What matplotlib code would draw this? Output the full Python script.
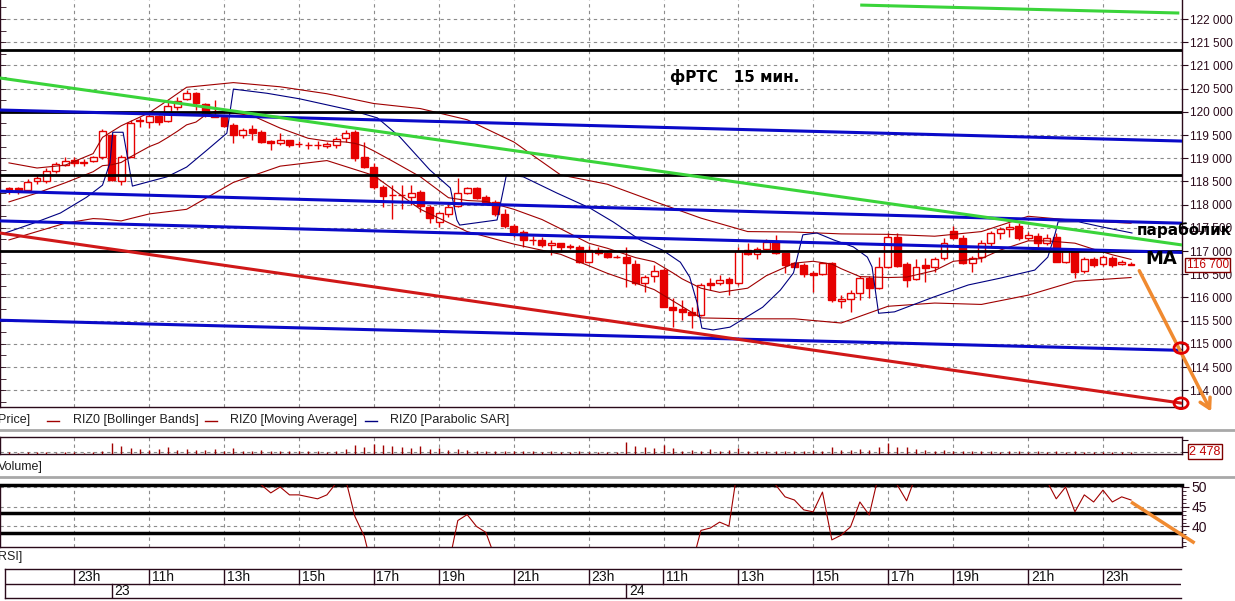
import numpy as np
import pandas as pd
import matplotlib
matplotlib.use("Agg")
import matplotlib.pyplot as plt
from matplotlib.lines import Line2D
from matplotlib.patches import Ellipse
from matplotlib.ticker import MultipleLocator

plt.rcParams['font.family'] = ['Liberation Sans', 'DejaVu Sans']

# RIZ0 (фьючерс на индекс РТС), 15-минутные свечи, 22-24.11.2010
sessions = [("2010-11-22 21:15", "2010-11-22 23:45"),
            ("2010-11-23 10:00", "2010-11-23 18:30"),
            ("2010-11-23 19:00", "2010-11-23 23:45"),
            ("2010-11-24 10:00", "2010-11-24 18:30"),
            ("2010-11-24 19:00", "2010-11-24 23:45")]

opens = [
    118350, 118350, 118320, 118520, 118520, 118730, 118860, 118960, 118900, 118940,
    119030, 119500, 118520, 119030, 119810, 119790, 119910, 119810, 120110, 120270,
    120400, 120170, 119930, 119895, 119715, 119500, 119630, 119570, 119370, 119320,
    119390, 119300, 119290, 119280, 119270, 119285, 119430, 119570, 119020, 118820,
    118375, 118200, 118210, 118170, 118265, 117955, 117630, 117800, 117970, 118255,
    118350, 118170, 118065, 117800, 117545, 117415, 117240, 117240, 117125, 117165,
    117095, 117095, 116770, 117020, 116950, 116880, 116865, 116720, 116305, 116460,
    116590, 115800, 115745, 115690, 115620, 116320, 116305, 116390, 116305, 117020,
    116935, 117035, 117220, 116950, 116735, 116690, 116535, 116505, 116735, 115930,
    115960, 116100, 116410, 116195, 116665, 117295, 116720, 116400, 116700, 116665,
    116845, 117440, 117275, 116750, 116880, 117165, 117395, 117475, 117545, 117275,
    117320, 117180, 117295, 116770, 117020, 116580, 116820, 116715, 116860, 116715,
    116720]
highs = [
    118390, 118380, 118560, 118640, 118780, 118925, 119020, 119020, 118980, 119050,
    119620, 119540, 119070, 119820, 119880, 119970, 119930, 120255, 120325, 120470,
    120435, 120200, 120255, 119930, 119750, 119645, 119715, 119600, 119390, 119540,
    119400, 119375, 119355, 119370, 119355, 119450, 119610, 119610, 119340, 118890,
    118420, 118420, 118420, 118420, 118315, 117990, 117850, 118030, 118565, 118385,
    118370, 118210, 118100, 117900, 117580, 117450, 117320, 117300, 117235, 117180,
    117150, 117130, 117110, 117095, 116985, 116915, 117095, 116805, 116485, 116700,
    116630, 115980, 115945, 115800, 116305, 116410, 116485, 116445, 117095, 117165,
    117095, 117250, 117345, 116965, 116770, 116735, 116560, 116770, 116770, 116050,
    116160, 116460, 116460, 116880, 117380, 117380, 116770, 116820, 116845, 116865,
    117275, 117540, 117340, 116890, 117235, 117440, 117525, 117600, 117600, 117410,
    117380, 117360, 117380, 117035, 117035, 116880, 116865, 116915, 116890, 116800,
    116760]
lows = [
    118240, 118240, 118310, 118440, 118470, 118675, 118830, 118830, 118830, 118920,
    118975, 118515, 118420, 119020, 119680, 119645, 119715, 119790, 120040, 120255,
    120040, 119895, 119880, 119680, 119320, 119430, 119390, 119335, 119180, 119285,
    119235, 119235, 119190, 119190, 119215, 119215, 119355, 118945, 118785, 118330,
    117955, 117690, 117900, 118000, 117850, 117600, 117525, 117725, 117940, 118230,
    118115, 118030, 117755, 117490, 117310, 117080, 117130, 117095, 116915, 116985,
    117040, 116735, 116750, 116915, 116860, 116840, 116220, 116270, 116125, 116340,
    115790, 115370, 115515, 115335, 115610, 116160, 116270, 116050, 116270, 116915,
    116820, 117020, 116935, 116535, 116650, 116435, 116125, 116495, 115910, 115765,
    115695, 115945, 115980, 116190, 116630, 116660, 116220, 116375, 116340, 116555,
    116800, 117260, 116720, 116555, 116770, 117095, 117260, 117300, 117235, 117235,
    117095, 117130, 116760, 116750, 116410, 116520, 116660, 116680, 116660, 116700,
    116690]
closes = [
    118300, 118320, 118490, 118570, 118725, 118875, 118950, 118900, 118910, 119030,
    119585, 118530, 119030, 119770, 119830, 119910, 119790, 120125, 120240, 120400,
    120185, 119970, 119895, 119695, 119500, 119605, 119550, 119355, 119335, 119390,
    119285, 119305, 119280, 119290, 119305, 119410, 119550, 118995, 118820, 118375,
    118185, 118210, 118200, 118255, 117970, 117705, 117810, 117955, 118255, 118350,
    118135, 118065, 117800, 117545, 117415, 117235, 117230, 117130, 117165, 117095,
    117090, 116770, 117020, 116965, 116880, 116870, 116735, 116305, 116450, 116575,
    115800, 115730, 115690, 115620, 116270, 116270, 116375, 116305, 117010, 116935,
    117035, 117200, 116950, 116700, 116660, 116505, 116485, 116735, 115945, 115965,
    116100, 116410, 116195, 116660, 117295, 116680, 116375, 116665, 116630, 116820,
    117180, 117275, 116750, 116845, 117165, 117380, 117465, 117510, 117275, 117345,
    117165, 117275, 116770, 117000, 116555, 116820, 116700, 116865, 116700, 116770,
    116700]
volumes = [
    2000, 1700, 2300, 1900, 2100, 1800, 2400, 2000, 1700, 2600,
    3500, 13600, 9900, 7400, 6200, 5000, 6200, 8700, 5000, 6200,
    5000, 5000, 6200, 3700, 7400, 3700, 3700, 5000, 3700, 4300,
    3200, 3700, 3200, 3200, 2600, 3700, 6200, 11100, 8700, 12400,
    11100, 9900, 8700, 7400, 9900, 6200, 7400, 5000, 6200, 5000,
    4300, 3700, 4300, 4300, 3700, 3200, 3700, 2600, 3200, 2600,
    2600, 3700, 2600, 2600, 2600, 2600, 14900, 9900, 8700, 7400,
    11100, 7400, 4300, 5000, 4300, 6200, 4300, 5000, 7400, 3700,
    3700, 4300, 3700, 3700, 3200, 4300, 5000, 4300, 8700, 5000,
    5000, 6200, 5000, 8700, 13600, 8700, 8700, 6200, 5000, 4300,
    5000, 3700, 4300, 3700, 3200, 3200, 2600, 3200, 3700, 2600,
    3200, 2600, 3700, 2600, 3700, 2600, 2600, 2600, 2600, 2600,
    2478]

# индикаторы (x = номер свечи)
bb_idx = [0, 3, 6, 9, 10, 12, 15, 17, 19, 24, 29, 34, 39, 44, 49, 54, 59, 64,
          69, 74, 79, 84, 89, 94, 99, 104, 109, 114, 120]
bb_upper = [118900, 118790, 118850, 119100, 119450, 119700, 119980, 120250, 120530,
            120630, 120540, 120390, 120180, 120070, 119830, 119350, 118640, 118440,
            118070, 117710, 117420, 117410, 117370, 117360, 117320, 117420, 117750,
            117660, 117600]
bb_lower = [117240, 117420, 117600, 117700, 117690, 117650, 117800, 117850, 117900,
            118480, 118830, 118950, 118630, 117900, 117420, 117150, 116930, 116520,
            116170, 115560, 115540, 115540, 115450, 115810, 115880, 115850, 116050,
            116350, 116430]
ma_idx = [0, 3, 6, 9, 10, 11, 12, 13, 14, 15, 16, 17, 18, 19, 20, 21, 22, 23, 24,
          26, 29, 32, 34, 36, 37, 38, 39, 41, 44, 47, 49, 51, 54, 57, 59, 62, 64,
          67, 69, 71, 72, 74, 76, 78, 79, 81, 84, 86, 88, 89, 91, 94, 96, 99, 101,
          104, 106, 109, 111, 114, 116, 118, 120]
ma_vals = [118060, 118250, 118470, 118710, 118840, 118860, 118910, 119030, 119140,
           119250, 119330, 119450, 119580, 119720, 119780, 119930, 120010, 120000,
           119970, 119920, 119650, 119430, 119370, 119350, 119320, 119260, 119160,
           118940, 118600, 118150, 118090, 118070, 117900, 117680, 117480, 117170,
           117060, 116860, 116770, 116530, 116400, 116200, 116110, 116170, 116200,
           116470, 116740, 116780, 116720, 116620, 116450, 116430, 116440, 116580,
           116780, 116840, 117020, 117220, 117220, 117170, 117040, 116920, 116820]
sar_idx = [-0.4, 2.6, 5.5, 8.3, 10.0, 10.8, 11.1, 12.2, 12.6, 13.2, 16.9, 19.0, 21.2,
           23.3, 24.0, 27.6, 31.1, 36.5, 39.4, 41.8, 45.0, 47.2, 47.9, 48.2, 52.2,
           53.2, 55.0, 58.6, 62.1, 64.6, 67.5, 69.9, 71.8, 72.8, 73.6, 74.1, 75.3,
           77.1, 78.9, 80.6, 82.5, 83.9, 84.9, 86.4, 88.2, 90.3, 91.8, 92.3, 93.0,
           94.7, 98.9, 102.6, 106.1, 109.7, 111.1, 111.9, 112.2, 114.4, 116.9, 120.1]
sar_vals = [117390, 117600, 117820, 118160, 118420, 118900, 119560, 119560, 119110,
            118400, 118600, 118810, 119180, 119540, 120490, 120400, 120280, 120040,
            119870, 119460, 118750, 118360, 117670, 117560, 117670, 118640, 118600,
            118250, 117930, 117630, 117240, 117020, 116760, 116440, 115880, 115340,
            115300, 115360, 115580, 115790, 116160, 116530, 117350, 117390, 117240,
            117090, 116870, 116660, 115660, 115690, 116010, 116270, 116420, 116590,
            116870, 117390, 117630, 117630, 117520, 117390]
rsi_idx = [0, 26, 27, 28, 29, 30, 31, 32, 33, 34, 35, 36, 37, 38, 39, 47, 48, 49, 50,
           51, 52, 73, 74, 75, 76, 77, 78, 81, 82, 83, 84, 85, 86, 87, 88, 89, 90,
           91, 92, 93, 94, 95, 96, 97, 111, 112, 113, 114, 115, 116, 117, 118, 119, 120]
rsi_vals = [62, 54, 50.5, 48.5, 50, 48, 48, 47.5, 47, 48, 51, 52, 42.5, 37.5, 28,
            30, 41.5, 43, 40, 38.5, 32, 30, 39, 39.6, 41.1, 40.1, 56, 56, 50.5, 47.5,
            46.7, 44.2, 43.7, 48.7, 36.6, 37.8, 39.9, 46.2, 42.9, 53, 60, 50.5, 46.5,
            53, 51.5, 47, 50, 43.7, 48, 46.2, 49.2, 46.2, 47.5, 46.7]

# нарисованные от руки уровни и каналы: (x1, y1, x2, y2)
black_levels = [121330, 120000, 118640, 117000]
green_lines = [(-1, 120730, 125.5, 117130), (91.2, 122300, 125.0, 122130)]
blue_lines = [(-1, 120040, 125.5, 119370), (-1, 118290, 125.5, 117600),
              (-1, 117650, 125.5, 116970), (-1, 115510, 125.5, 114860)]
red_lines = [(-1, 117390, 125.5, 113720)]
rsi_levels = [43.3, 38.3]

times = pd.DatetimeIndex(np.concatenate(
    [pd.date_range(a, b, freq="15min").values for a, b in sessions]))
n = len(times)
x = np.arange(n)
o, h, l, c = map(np.array, (opens, highs, lows, closes))

hour_pos = [i for i, t in enumerate(times) if t.minute == 0 and t.hour % 2 == 1 and t.hour >= 11]
hour_lbl = [f"{times[i].hour}h" for i in hour_pos]
day_pos = [i for i in range(1, n) if times[i].date() != times[i - 1].date()]
day_lbl = [str(times[i].day) for i in day_pos]

RED = "#e60000"
DRED = "#a00000"
NAVY = "#000080"
BLUE = "#0a0ac8"
GREEN = "#3ad43a"
ORANGE = "#f08a30"
FRAME = "#2a0a1a"
GRID = dict(color="#8c8c8c", lw=0.8, ls=(0, (3, 3)), zorder=0)

W, H = 1235, 601
fig = plt.figure(figsize=(W / 100, H / 100), dpi=100)


def px_axes(x0, y0, x1, y1):
    return fig.add_axes([x0 / W, 1 - y1 / H, (x1 - x0) / W, (y1 - y0) / H])


def fig_text(px, py, s, **kw):
    fig.text(px / W, 1 - py / H, s, **kw)


def frame(a, color=FRAME):
    for s in a.spines.values():
        s.set_color(color)
        s.set_linewidth(1)


XL = (-0.96, 125.45)

# ---------- цена ----------
ax = px_axes(0, 0, 1182, 407)
ax.set_xlim(*XL)
ax.set_ylim(113640, 122410)
frame(ax)
ax.spines['top'].set_visible(False)
for p in hour_pos:
    ax.axvline(p, **GRID)
for v in range(114000, 122001, 500):
    ax.axhline(v, **GRID)

up = c >= o
ax.vlines(x, l, h, color=RED, lw=1, zorder=3)
ax.bar(x, np.maximum(np.abs(c - o), 12), bottom=np.minimum(o, c), width=0.74,
       color=np.where(up, "white", RED), edgecolor=RED, lw=1, zorder=4)

ax.plot(bb_idx, bb_upper, color=DRED, lw=0.8, zorder=5)
ax.plot(bb_idx, bb_lower, color=DRED, lw=0.8, zorder=5)
ax.plot(ma_idx, ma_vals, color=DRED, lw=0.8, zorder=5)
ax.plot(sar_idx, sar_vals, color=NAVY, lw=0.8, zorder=5)

for v in black_levels:
    ax.axhline(v, color="black", lw=2, zorder=6)
for lines, col in ((blue_lines, BLUE), (green_lines, GREEN), (red_lines, "#d01818")):
    for x1, y1, x2, y2 in lines:
        ax.plot([x1, x2], [y1, y2], color=col, lw=2.2, zorder=6)

ax.yaxis.tick_right()
ax.set_yticks(range(114000, 122001, 500))
ax.set_yticklabels([f"{v:,}".replace(",", " ") for v in range(114000, 122001, 500)])
ax.yaxis.set_minor_locator(MultipleLocator(250))
ax.yaxis.remove_overlapping_locs = False
ax.tick_params(axis='y', which='major', left=False, right=True, labelright=True,
               length=4, pad=2, labelsize=8.5, colors=FRAME)
ax.tick_params(axis='y', which='minor', left=True, right=False, direction='in',
               length=4, colors=FRAME)
ax.set_xticks([])

ax.text(1.004, c[-1], f"{c[-1]:,}".replace(",", " "), transform=ax.get_yaxis_transform(),
        ha='left', va='center', fontsize=8.5, color="#c00000", zorder=9,
        bbox=dict(boxstyle='square,pad=0.12', fc='white', ec='#800000', lw=1))
ax.text(70.7, 120750, "фРТС   15 мин.", fontsize=11, fontweight='bold',
        family='DejaVu Sans', va='center', ha='left')
ax.text(120.6, 117450, "параболик", fontsize=11, fontweight='bold',
        family='DejaVu Sans', va='center', ha='left', zorder=10)
ax.text(121.5, 116830, "MA", fontsize=13, fontweight='bold',
        family='DejaVu Sans', va='center', ha='left', zorder=10)
ax.annotate("", xy=(128.7, 113490), xytext=(120.75, 116630), annotation_clip=False,
            arrowprops=dict(arrowstyle="->,head_length=0.7,head_width=0.4",
                            color=ORANGE, lw=2.5), zorder=10)
for v in (114910, 113720):
    ax.add_patch(Ellipse((125.35, v), 1.5, 230, fill=False, ec="#e00000", lw=2,
                         clip_on=False, zorder=11))

# ---------- легенда и разделители ----------
fig_text(-2, 420, "Price]", fontsize=9, va='center', color="#202020")
for lx, tx, col, s in ((47, 73, DRED, "RIZ0 [Bollinger Bands]"),
                       (205, 230, DRED, "RIZ0 [Moving Average]"),
                       (365, 390, NAVY, "RIZ0 [Parabolic SAR]")):
    fig.add_artist(Line2D([lx / W, (lx + 12) / W], [1 - 421 / H] * 2, color=col, lw=1))
    fig_text(tx, 420, s, fontsize=9, va='center', color="#202020")
for yy in (430, 477):
    fig.add_artist(Line2D([0, 1], [1 - yy / H] * 2, color="#a8a8a8", lw=2))
fig_text(-2, 467, "Volume]", fontsize=9, va='center', color="#202020")
fig_text(-2, 557, "RSI]", fontsize=9, va='center', color="#202020")

# ---------- объём ----------
axv = px_axes(0, 437, 1182, 454)
axv.set_xlim(*XL)
axv.set_ylim(0, 21000)
frame(axv)
for p in hour_pos:
    axv.axvline(p, **GRID)
axv.axhline(3000, **GRID)
axv.vlines(x, 0, volumes, color=DRED, lw=1, zorder=3)
axv.set_xticks([])
axv.yaxis.tick_right()
axv.set_yticks([3000, 17000])
axv.set_yticklabels([])
axv.tick_params(axis='y', left=True, right=True, length=4, colors=FRAME)
axv.text(1.006, volumes[-1], f"{volumes[-1]:,}".replace(",", " "),
         transform=axv.get_yaxis_transform(), ha='left', va='center', fontsize=9,
         color="#c00000", bbox=dict(boxstyle='square,pad=0.12', fc='white', ec='#800000', lw=1))

# ---------- RSI ----------
axr = px_axes(0, 485, 1182, 547)
axr.set_xlim(*XL)
axr.set_ylim(34.8, 50.5)
frame(axr)
axr.spines['top'].set_linewidth(2.5)
axr.spines['top'].set_color("black")
for p in hour_pos:
    axr.axvline(p, **GRID)
for v in (50, 45, 40):
    axr.axhline(v, **GRID)
for v in rsi_levels:
    axr.axhline(v, color="black", lw=2.5, zorder=2)
axr.plot(rsi_idx, rsi_vals, color=DRED, lw=0.8, zorder=3)
axr.plot([120.0, 126.8], [46.2, 35.8], color=ORANGE, lw=2.5, clip_on=False,
         solid_capstyle='butt', zorder=10)
axr.set_xticks([])
axr.yaxis.tick_right()
axr.set_yticks([40, 45, 50])
axr.yaxis.set_minor_locator(MultipleLocator(1))
axr.tick_params(axis='y', which='major', left=True, right=True, labelright=True,
                direction='out', length=5, pad=2, labelsize=10, colors=FRAME)
axr.tick_params(axis='y', which='minor', left=True, right=True, length=3, colors=FRAME)

# ---------- шкала времени ----------
axt = px_axes(5, 569, 1181, 598)
axt.set_xlim(-0.43, 125.35)
axt.set_ylim(0, 2)
frame(axt)
axt.spines['right'].set_visible(False)
axt.set_xticks([])
axt.set_yticks([])
axt.axhline(1, color=FRAME, lw=1)
for p, s in zip(hour_pos, hour_lbl):
    axt.plot([p, p], [1, 2], color=FRAME, lw=1)
    axt.text(p + 0.3, 1.48, s, fontsize=10, va='center', ha='left', color="#101010")
for p, s in zip(day_pos, day_lbl):
    axt.plot([p, p], [0, 1], color=FRAME, lw=1)
    axt.text(p + 0.3, 0.48, s, fontsize=10, va='center', ha='left', color="#101010")

fig.savefig("out.png", dpi=100)
